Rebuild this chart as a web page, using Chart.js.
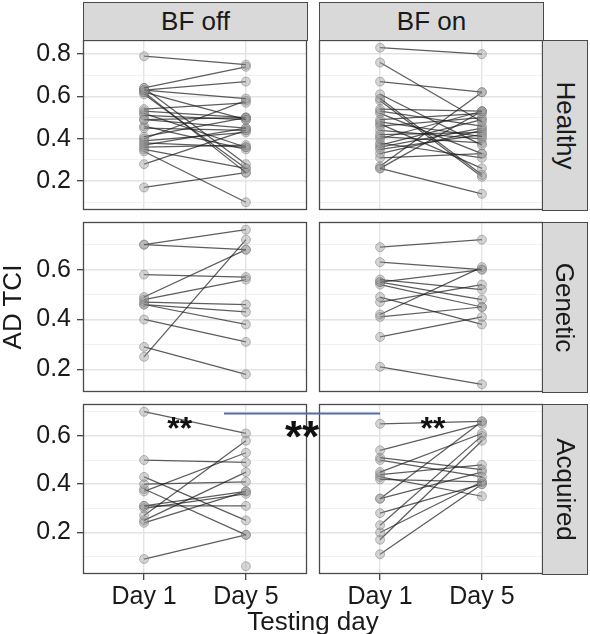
<!DOCTYPE html>
<html>
<head>
<meta charset="utf-8">
<script src="https://cdn.jsdelivr.net/npm/chart.js@4.4.0/dist/chart.umd.min.js"></script>
<style>
  html, body { margin: 0; padding: 0; background: #fff; }
  #wrap { position: relative; width: 590px; height: 634px; overflow: hidden;
          font-family: "Liberation Sans", Arial, sans-serif; color: #1a1a1a; }
  #wrap canvas { position: absolute; }
  .strip { position: absolute; background: #d9d9d9; border: 1px solid #4a4a4a; box-sizing: border-box;
           display: flex; align-items: center; justify-content: center; font-size: 26px; z-index: 2; }
  .strip.side span { display: block; transform: rotate(90deg); white-space: nowrap; }
  .title { position: absolute; font-size: 26px; line-height: 30px; text-align: center; white-space: nowrap; z-index: 2; }
</style>
</head>
<body>
<div id="wrap"></div>
<script>
// --- categories / labels ---
const conditions = ['BF off', 'BF on'];
const groups = ['Healthy', 'Genetic', 'Acquired'];
const dayLabels = ['Day 1', 'Day 5'];
const dayPositions = [1, 2];
const yMajor = [0.2, 0.4, 0.6, 0.8];

// --- values (one entry per subject, Day 1 -> Day 5) ---
const healthyOffDay1 = [0.79, 0.64, 0.63, 0.63, 0.62, 0.64, 0.62, 0.61, 0.54, 0.53, 0.51, 0.49, 0.49, 0.45, 0.41, 0.40, 0.39, 0.38, 0.37, 0.36, 0.35, 0.34, 0.28, 0.17, 0.52, 0.46];
const healthyOffDay5 = [0.75, 0.74, 0.67, 0.59, 0.49, 0.28, 0.24, 0.26, 0.57, 0.50, 0.49, 0.45, 0.50, 0.44, 0.50, 0.58, 0.43, 0.36, 0.45, 0.37, 0.26, 0.10, 0.44, 0.24, 0.36, 0.35];

const healthyOnDay1 = [0.83, 0.76, 0.67, 0.61, 0.59, 0.58, 0.54, 0.53, 0.52, 0.49, 0.48, 0.47, 0.46, 0.42, 0.41, 0.40, 0.38, 0.37, 0.35, 0.33, 0.31, 0.26, 0.26, 0.27, 0.36, 0.44];
const healthyOnDay5 = [0.80, 0.48, 0.62, 0.37, 0.23, 0.22, 0.53, 0.46, 0.33, 0.52, 0.41, 0.26, 0.50, 0.43, 0.38, 0.53, 0.31, 0.49, 0.42, 0.44, 0.33, 0.14, 0.53, 0.62, 0.45, 0.40];

const geneticOffDay1 = [0.70, 0.70, 0.58, 0.49, 0.48, 0.47, 0.46, 0.46, 0.40, 0.29, 0.25];
const geneticOffDay5 = [0.76, 0.68, 0.57, 0.68, 0.56, 0.46, 0.43, 0.38, 0.31, 0.18, 0.72];

const geneticOnDay1 = [0.69, 0.63, 0.56, 0.55, 0.55, 0.54, 0.49, 0.47, 0.42, 0.41, 0.33, 0.21];
const geneticOnDay5 = [0.72, 0.60, 0.52, 0.60, 0.48, 0.45, 0.38, 0.54, 0.61, 0.45, 0.41, 0.14];

const acquiredOffDay1 = [0.70, 0.50, 0.43, 0.40, 0.38, 0.37, 0.31, 0.30, 0.27, 0.25, 0.24, 0.09, null, 0.31];
const acquiredOffDay5 = [0.61, 0.49, 0.25, 0.41, 0.19, 0.53, 0.31, 0.36, 0.58, 0.45, 0.37, 0.19, 0.06, 0.37];

const acquiredOnDay1 = [0.65, 0.54, 0.51, 0.50, 0.45, 0.44, 0.42, 0.43, 0.34, 0.34, 0.28, 0.23, 0.20, 0.17, 0.11];
const acquiredOnDay5 = [0.66, 0.65, 0.46, 0.43, 0.61, 0.48, 0.41, 0.35, 0.45, 0.66, 0.40, 0.60, 0.41, 0.58, 0.40];

// significance marks
const sigText = '**';

// rows x columns
const panelData = [
    [[healthyOffDay1, healthyOffDay5], [healthyOnDay1, healthyOnDay5]],
    [[geneticOffDay1, geneticOffDay5], [geneticOnDay1, geneticOnDay5]],
    [[acquiredOffDay1, acquiredOffDay5], [acquiredOnDay1, acquiredOnDay5]]
];

// --- layout ---
const FONT = '"Liberation Sans", Arial, sans-serif';
const PANEL_X = [83, 319];
const PANEL_Y = [40, 222, 404];
const PANEL_W = 224, PANEL_H = 170;
const Y_AXIS_W = 83, X_AXIS_H = 48, PAD = 2;

const wrap = document.getElementById('wrap');
const isMajor = v => yMajor.some(m => Math.abs(m - v) < 1e-6);

// free y per row, ggplot style 5% expansion
function rowRange(row) {
    const vals = [];
    row.forEach(p => p.forEach(a => a.forEach(v => { if (v != null) vals.push(v); })));
    const lo = Math.min(...vals), hi = Math.max(...vals);
    const e = (hi - lo) * 0.05;
    return [lo - e, hi + e];
}

// no extra room for label overflow, panels must line up exactly
function noPad(s) {
    s.paddingTop = 0; s.paddingBottom = 0; s.paddingLeft = 0; s.paddingRight = 0;
}

const panelBorder = {
    id: 'panelBorder',
    afterDraw(chart) {
        const a = chart.chartArea, ctx = chart.ctx;
        ctx.save();
        ctx.strokeStyle = '#4a4a4a';
        ctx.lineWidth = 1.3;
        ctx.strokeRect(a.left + 0.5, a.top + 0.5, a.right - a.left - 1, a.bottom - a.top - 1);
        ctx.restore();
    }
};

function makePanel(col, row) {
    const isLeft = col === 0, isBottom = row === 2;
    const [day1, day5] = panelData[row][col];
    const [yMin, yMax] = rowRange(panelData[row]);

    const cv = document.createElement('canvas');
    const left = isLeft ? 0 : PANEL_X[col] - PAD;
    const top = PANEL_Y[row] - PAD;
    const w = (isLeft ? Y_AXIS_W : PAD) + PANEL_W + PAD;
    const h = PAD + PANEL_H + (isBottom ? X_AXIS_H : PAD);
    cv.width = w; cv.height = h;
    cv.style.left = left + 'px'; cv.style.top = top + 'px';
    cv.style.width = w + 'px'; cv.style.height = h + 'px';
    wrap.appendChild(cv);

    const datasets = day1.map((v, i) => ({
        data: [{ x: dayPositions[0], y: v }, { x: dayPositions[1], y: day5[i] }],
        borderColor: 'rgba(30,30,30,0.72)',
        borderWidth: 1.25,
        pointRadius: 4.5,
        pointBackgroundColor: 'rgba(150,150,150,0.4)',
        pointBorderColor: 'rgba(110,110,110,0.45)',
        pointBorderWidth: 1,
        spanGaps: false
    }));

    const chart = new Chart(cv, {
        type: 'line',
        data: { datasets: datasets },
        options: {
            responsive: false,
            animation: false,
            events: [],
            layout: {
                autoPadding: false,
                padding: { left: isLeft ? 0 : PAD, right: PAD, top: PAD, bottom: isBottom ? 0 : PAD }
            },
            plugins: { legend: { display: false }, tooltip: { enabled: false } },
            scales: {
                x: {
                    type: 'linear', min: 0.4, max: 2.6,
                    afterBuildTicks: s => { s.ticks = dayPositions.map(v => ({ value: v })); },
                    afterFit: s => { s.height = isBottom ? X_AXIS_H : 0; noPad(s); },
                    border: { display: false },
                    grid: { color: '#e4e4e4', lineWidth: 1.4, drawTicks: isBottom, tickLength: 6, tickColor: '#333', tickWidth: 1.2 },
                    ticks: {
                        display: isBottom, autoSkip: false, maxRotation: 0, padding: 2,
                        color: '#1a1a1a', font: { family: FONT, size: 25 },
                        callback: v => dayLabels[dayPositions.indexOf(v)]
                    }
                },
                y: {
                    min: yMin, max: yMax,
                    afterFit: s => { s.width = isLeft ? Y_AXIS_W : 0; noPad(s); },
                    border: { display: false },
                    grid: {
                        color: c => (c.tick && isMajor(c.tick.value)) ? '#e4e4e4' : '#f1f1f1',
                        lineWidth: c => (c.tick && isMajor(c.tick.value)) ? 1.4 : 0.9,
                        drawTicks: isLeft, tickLength: 6, tickWidth: 1.2,
                        tickColor: c => (c.tick && isMajor(c.tick.value)) ? '#333' : 'rgba(0,0,0,0)'
                    },
                    ticks: {
                        display: isLeft, stepSize: 0.1, includeBounds: false, autoSkip: false, padding: 6,
                        color: '#1a1a1a', font: { family: FONT, size: 25 },
                        callback: v => isMajor(v) ? v.toFixed(1) : ''
                    }
                }
            }
        },
        plugins: [panelBorder]
    });
    return { chart: chart, left: left, top: top };
}

const charts = groups.map((g, row) => conditions.map((c, col) => makePanel(col, row)));

// --- strips ---
conditions.forEach((c, col) => {
    const d = document.createElement('div');
    d.className = 'strip';
    d.style.left = PANEL_X[col] + 'px'; d.style.top = '2px';
    d.style.width = (PANEL_W + 1) + 'px'; d.style.height = (PANEL_Y[0] - 1) + 'px';
    d.textContent = c;
    wrap.appendChild(d);
});
groups.forEach((g, row) => {
    const d = document.createElement('div');
    d.className = 'strip side';
    d.style.left = (PANEL_X[1] + PANEL_W - 1) + 'px'; d.style.top = PANEL_Y[row] + 'px';
    d.style.width = '46px'; d.style.height = (PANEL_H + 1) + 'px';
    const s = document.createElement('span');
    s.textContent = g;
    d.appendChild(s);
    wrap.appendChild(d);
});

// --- axis titles ---
const xt = document.createElement('div');
xt.className = 'title';
xt.style.left = PANEL_X[0] + 'px'; xt.style.width = (PANEL_X[1] + PANEL_W - PANEL_X[0]) + 'px';
xt.style.top = '606px';
xt.textContent = 'Testing day';
wrap.appendChild(xt);

const yt = document.createElement('div');
yt.className = 'title';
yt.style.left = '-88px'; yt.style.width = '200px'; yt.style.top = '292px';
yt.style.transform = 'rotate(-90deg)';
yt.textContent = 'AD TCI';
wrap.appendChild(yt);

// --- significance overlay (positions from the panels' own scales) ---
const ov = document.createElement('canvas');
ov.width = 590; ov.height = 634;
ov.style.left = '0px'; ov.style.top = '0px'; ov.style.zIndex = 3;
wrap.appendChild(ov);
const octx = ov.getContext('2d');

function px(entry, v) { return entry.left + entry.chart.scales.x.getPixelForValue(v); }
function py(entry, v) { return entry.top + entry.chart.scales.y.getPixelForValue(v); }

function stars(x, y, size) {
    octx.font = 'bold ' + size + 'px ' + FONT;
    octx.fillStyle = '#111';
    octx.textAlign = 'center';
    octx.textBaseline = 'alphabetic';
    octx.fillText(sigText, x, y + size * 0.5);
}

const accOff = charts[2][0], accOn = charts[2][1];
stars(px(accOff, 1.35), py(accOff, 0.655), 32);
stars(px(accOn, 1.52), py(accOn, 0.655), 32);

const lineY = py(accOff, 0.693);
const x0 = px(accOff, 1.785), x1 = px(accOn, dayPositions[0]);
octx.strokeStyle = '#5468b0';
octx.lineWidth = 2;
octx.beginPath();
octx.moveTo(x0, lineY);
octx.lineTo(x1, lineY);
octx.stroke();
stars((x0 + x1) / 2, py(accOff, 0.625), 44);
</script>
</body>
</html>
